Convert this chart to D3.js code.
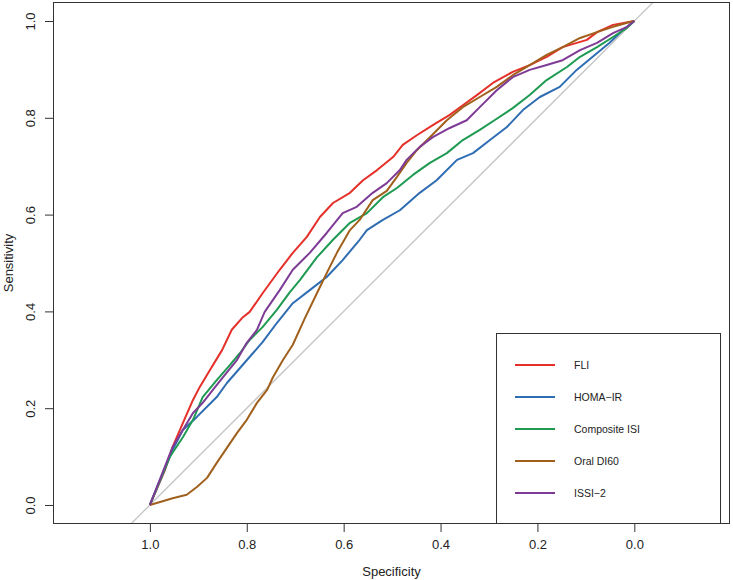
<!DOCTYPE html>
<html>
<head>
<meta charset="utf-8">
<script src="https://cdn.jsdelivr.net/npm/d3@7"></script>
<style>
  body { margin: 0; background: #fff; }
  svg { display: block; }
  text { font-family: "Liberation Sans", Arial, Helvetica, sans-serif; fill: #222; }
</style>
</head>
<body>
<svg id="chart" width="733" height="580"></svg>
<script>
// ---- Data (specificity, sensitivity) ----
const seriesNames = ["FLI", "HOMA\u2212IR", "Composite ISI", "Oral DI60", "ISSI\u22122"];
const seriesColors = ["#e5302a", "#2f6db3", "#1f9a52", "#a0601c", "#7e3b96"];

const specFLI = [1.000,0.969,0.953,0.932,0.911,0.897,0.876,0.851,0.831,0.808,0.794,0.767,0.732,0.705,0.676,0.649,0.622,0.587,0.560,0.531,0.498,0.478,0.449,0.416,0.381,0.354,0.325,0.292,0.251,0.216,0.181,0.148,0.098,0.077,0.044,0.000];
const sensFLI = [0.000,0.072,0.120,0.169,0.217,0.244,0.279,0.320,0.362,0.388,0.399,0.438,0.486,0.521,0.554,0.595,0.624,0.645,0.671,0.692,0.719,0.744,0.764,0.785,0.806,0.826,0.847,0.872,0.895,0.909,0.926,0.946,0.961,0.977,0.992,1.000];

const specHOMA = [1.000,0.953,0.932,0.903,0.862,0.841,0.814,0.787,0.767,0.738,0.705,0.670,0.635,0.602,0.567,0.552,0.519,0.484,0.443,0.408,0.366,0.333,0.298,0.263,0.230,0.195,0.154,0.119,0.086,0.051,0.024,0.000];
const sensHOMA = [0.000,0.114,0.155,0.182,0.223,0.252,0.283,0.314,0.337,0.376,0.417,0.444,0.471,0.506,0.548,0.568,0.589,0.609,0.645,0.671,0.713,0.727,0.754,0.781,0.816,0.843,0.864,0.899,0.926,0.955,0.981,1.000];

const specCISI = [1.000,0.959,0.932,0.911,0.891,0.862,0.835,0.814,0.794,0.767,0.738,0.711,0.690,0.655,0.622,0.587,0.552,0.519,0.490,0.457,0.422,0.387,0.354,0.319,0.284,0.251,0.216,0.181,0.139,0.112,0.077,0.044,0.015,0.000];
const sensCISI = [0.000,0.099,0.140,0.176,0.223,0.258,0.289,0.314,0.341,0.368,0.403,0.440,0.465,0.512,0.548,0.583,0.603,0.636,0.655,0.682,0.707,0.727,0.754,0.775,0.798,0.820,0.847,0.878,0.905,0.926,0.946,0.967,0.986,1.000];

const specDI60 = [1.000,0.979,0.953,0.924,0.903,0.882,0.862,0.841,0.820,0.800,0.779,0.758,0.746,0.725,0.705,0.680,0.655,0.635,0.614,0.587,0.567,0.540,0.511,0.490,0.470,0.449,0.422,0.387,0.354,0.319,0.284,0.251,0.216,0.181,0.148,0.112,0.077,0.044,0.009,0.000];
const sensDI60 = [0.000,0.006,0.014,0.021,0.037,0.056,0.087,0.118,0.149,0.176,0.211,0.238,0.264,0.300,0.331,0.386,0.438,0.479,0.521,0.568,0.589,0.630,0.649,0.678,0.707,0.733,0.760,0.795,0.822,0.843,0.864,0.888,0.909,0.930,0.946,0.965,0.977,0.988,0.998,1.000];

const specISSI = [1.000,0.953,0.932,0.911,0.891,0.870,0.849,0.820,0.800,0.779,0.763,0.732,0.705,0.670,0.635,0.602,0.573,0.540,0.511,0.484,0.470,0.443,0.416,0.381,0.346,0.319,0.284,0.251,0.216,0.181,0.148,0.112,0.077,0.044,0.015,0.000];
const sensISSI = [0.000,0.120,0.155,0.190,0.211,0.238,0.264,0.300,0.335,0.362,0.399,0.444,0.486,0.521,0.562,0.603,0.616,0.645,0.665,0.692,0.713,0.740,0.760,0.779,0.795,0.822,0.857,0.884,0.899,0.909,0.919,0.940,0.955,0.975,0.988,1.000];

const seriesSpec = [specFLI, specHOMA, specCISI, specDI60, specISSI];
const seriesSens = [sensFLI, sensHOMA, sensCISI, sensDI60, sensISSI];

const xTicks = [1.0, 0.8, 0.6, 0.4, 0.2, 0.0];
const yTicks = [0.0, 0.2, 0.4, 0.6, 0.8, 1.0];

// ---- Layout ----
const svg = d3.select("#chart");
const plot = { left: 53, right: 730, top: 2, bottom: 524 };

const x = d3.scaleLinear().domain([1.2, -0.1975]).range([plot.left, plot.right]);
const y = d3.scaleLinear().domain([-0.0393, 1.0393]).range([plot.bottom, plot.top]);

svg.append("defs").append("clipPath").attr("id", "clip")
  .append("rect")
  .attr("x", plot.left).attr("y", plot.top)
  .attr("width", plot.right - plot.left).attr("height", plot.bottom - plot.top);

const g = svg.append("g").attr("clip-path", "url(#clip)");

// chance diagonal
g.append("line")
  .attr("x1", x(1.2)).attr("y1", y(-0.2))
  .attr("x2", x(-0.2)).attr("y2", y(1.2))
  .attr("stroke", "#c4c4c4").attr("stroke-width", 1.3);

// curves
const line = d3.line().x(d => x(d[0])).y(d => y(d[1]));
seriesNames.forEach((name, i) => {
  const pts = seriesSpec[i].map((s, j) => [s, seriesSens[i][j]]);
  g.append("path")
    .datum(pts)
    .attr("d", line)
    .attr("fill", "none")
    .attr("stroke", seriesColors[i])
    .attr("stroke-width", 2)
    .attr("stroke-linejoin", "round");
});

// legend (clipped at plot bottom)
const lg = g.append("g");
lg.append("rect")
  .attr("x", 496.5).attr("y", 333.5)
  .attr("width", 224).attr("height", 200)
  .attr("fill", "#fff").attr("stroke", "#333").attr("stroke-width", 1);
seriesNames.forEach((name, i) => {
  const ly = 365 + i * 32;
  lg.append("line")
    .attr("x1", 515).attr("x2", 555).attr("y1", ly).attr("y2", ly)
    .attr("stroke", seriesColors[i]).attr("stroke-width", 2);
  lg.append("text")
    .attr("x", 574).attr("y", ly + 4)
    .attr("font-size", "10.5px")
    .text(name);
});

// box
svg.append("rect")
  .attr("x", plot.left + 0.5).attr("y", plot.top + 0.5)
  .attr("width", plot.right - plot.left - 1).attr("height", plot.bottom - plot.top - 1)
  .attr("fill", "none").attr("stroke", "#333").attr("stroke-width", 1);

// x axis
const xAxis = d3.axisBottom(x).tickValues(xTicks).tickFormat(d3.format(".1f"))
  .tickSize(8).tickPadding(8);
const xg = svg.append("g").attr("transform", `translate(0,${plot.bottom})`).call(xAxis);
xg.select(".domain").remove();
xg.selectAll(".tick line").attr("stroke", "#333");
xg.selectAll(".tick text").attr("font-size", "13px").attr("fill", "#222")
  .attr("font-family", "Liberation Sans, Arial, sans-serif");

// y axis
const yAxis = d3.axisLeft(y).tickValues(yTicks).tickFormat(d3.format(".1f"))
  .tickSize(8).tickPadding(10);
const yg = svg.append("g").attr("transform", `translate(${plot.left},0)`).call(yAxis);
yg.select(".domain").remove();
yg.selectAll(".tick line").attr("stroke", "#333");
yg.selectAll(".tick text")
  .attr("font-size", "13px").attr("fill", "#222")
  .attr("font-family", "Liberation Sans, Arial, sans-serif")
  .attr("x", null).attr("dy", null)
  .attr("text-anchor", "middle")
  .attr("transform", "translate(-18,0) rotate(-90)");

// axis titles
svg.append("text")
  .attr("x", (plot.left + plot.right) / 2).attr("y", 576)
  .attr("text-anchor", "middle").attr("font-size", "13px")
  .text("Specificity");
svg.append("text")
  .attr("transform", `translate(13,${(plot.top + plot.bottom) / 2}) rotate(-90)`)
  .attr("text-anchor", "middle").attr("font-size", "13px")
  .text("Sensitivity");
</script>
</body>
</html>
